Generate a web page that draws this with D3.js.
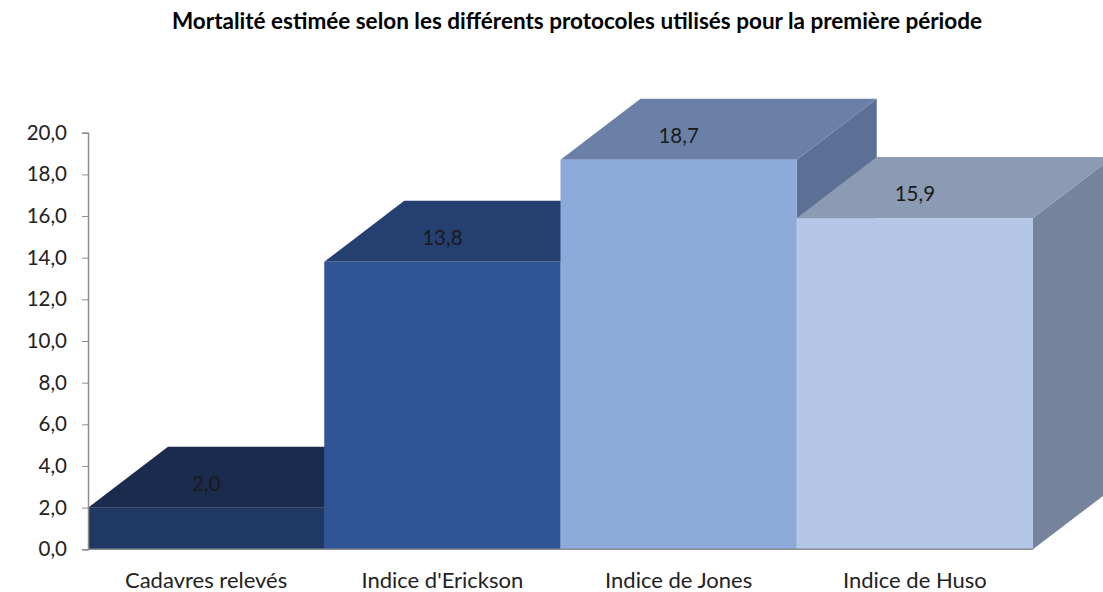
<!DOCTYPE html>
<html>
<head>
<meta charset="utf-8">
<script src="https://cdn.jsdelivr.net/npm/d3@7"></script>
<style>
  html, body { margin: 0; padding: 0; background: #fff; }
  svg { display: block; font-family: Lato, "Open Sans", sans-serif; }
</style>
</head>
<body>
<svg id="chart" width="1103" height="592"></svg>
<script>
// Mortalité estimée — first period, one value per protocol
const categories = ["Cadavres relevés", "Indice d'Erickson", "Indice de Jones", "Indice de Huso"];
const values = [2.0, 13.8, 18.7, 15.9];
const valueLabels = ["2,0", "13,8", "18,7", "15,9"];
const yTicks = [0, 2, 4, 6, 8, 10, 12, 14, 16, 18, 20];
const title = "Mortalité estimée selon les différents protocoles utilisés pour la première période";

// face colours per bar: front, top, side
const palette = [
  { front: "#203864", top: "#1b2b4d", side: "#18264a" },
  { front: "#2f5597", top: "#243f70", side: "#223c6b" },
  { front: "#8eaadb", top: "#6b80a6", side: "#5c6f94" },
  { front: "#b4c7e7", top: "#8b9bb4", side: "#75849c" }
];

const svg = d3.select("#chart");
const x0 = 88, x1 = 1033, yBase = 549.3, yTop = 132.7;
const depth = { dx: 80, dy: -61 };

const x = d3.scaleBand().domain(categories).range([x0, x1]).padding(0);
const y = d3.scaleLinear().domain([0, 20]).range([yBase, yTop]);

// title
svg.append("text")
  .attr("x", 577).attr("y", 29)
  .attr("text-anchor", "middle")
  .attr("font-weight", "bold")
  .attr("font-size", 22.5)
  .attr("fill", "#000")
  .text(title);

// bars drawn left to right so each bar hides the side of the previous one
const bars = svg.append("g");
categories.forEach((c, i) => {
  const v = values[i];
  const xl = x(c), xr = x(c) + x.bandwidth();
  const yt = y(v), yb = y(0);
  const g = bars.append("g");
  const pts = a => a.map(p => p.join(",")).join(" ");
  // side face
  g.append("polygon")
    .attr("points", pts([[xr, yt], [xr + depth.dx, yt + depth.dy], [xr + depth.dx, yb + depth.dy], [xr, yb]]))
    .attr("fill", palette[i].side);
  // top face
  g.append("polygon")
    .attr("points", pts([[xl, yt], [xl + depth.dx, yt + depth.dy], [xr + depth.dx, yt + depth.dy], [xr, yt]]))
    .attr("fill", palette[i].top);
  // front face
  g.append("rect")
    .attr("x", xl).attr("y", yt)
    .attr("width", xr - xl).attr("height", yb - yt)
    .attr("fill", palette[i].front);
});

// value labels on the top faces
svg.append("g").selectAll("text")
  .data(categories)
  .join("text")
  .attr("x", c => x(c) + x.bandwidth() / 2)
  .attr("y", (c, i) => y(values[i]) - 17)
  .attr("text-anchor", "middle")
  .attr("font-size", 20.5)
  .attr("fill", "#1a1a1a")
  .text((c, i) => valueLabels[i]);

// y axis
const yAxis = d3.axisLeft(y)
  .tickValues(yTicks)
  .tickSize(6)
  .tickPadding(15)
  .tickFormat(d => d.toFixed(1).replace(".", ","));
const ya = svg.append("g").attr("transform", `translate(${x0},0)`).call(yAxis);
ya.select(".domain").attr("stroke", "#8c8c8c").attr("stroke-width", 1.5);
ya.selectAll(".tick line").attr("stroke", "#8c8c8c");
ya.selectAll(".tick text").attr("font-size", 20.5).attr("fill", "#222").attr("font-family", "Lato, sans-serif");

// baseline
svg.append("line")
  .attr("x1", x0).attr("x2", x1)
  .attr("y1", yBase).attr("y2", yBase)
  .attr("stroke", "#8c8c8c").attr("stroke-width", 1.5);

// category labels
svg.append("g").selectAll("text")
  .data(categories)
  .join("text")
  .attr("x", c => x(c) + x.bandwidth() / 2)
  .attr("y", 588)
  .attr("text-anchor", "middle")
  .attr("font-size", 22)
  .attr("fill", "#222")
  .text(c => c);
</script>
</body>
</html>
